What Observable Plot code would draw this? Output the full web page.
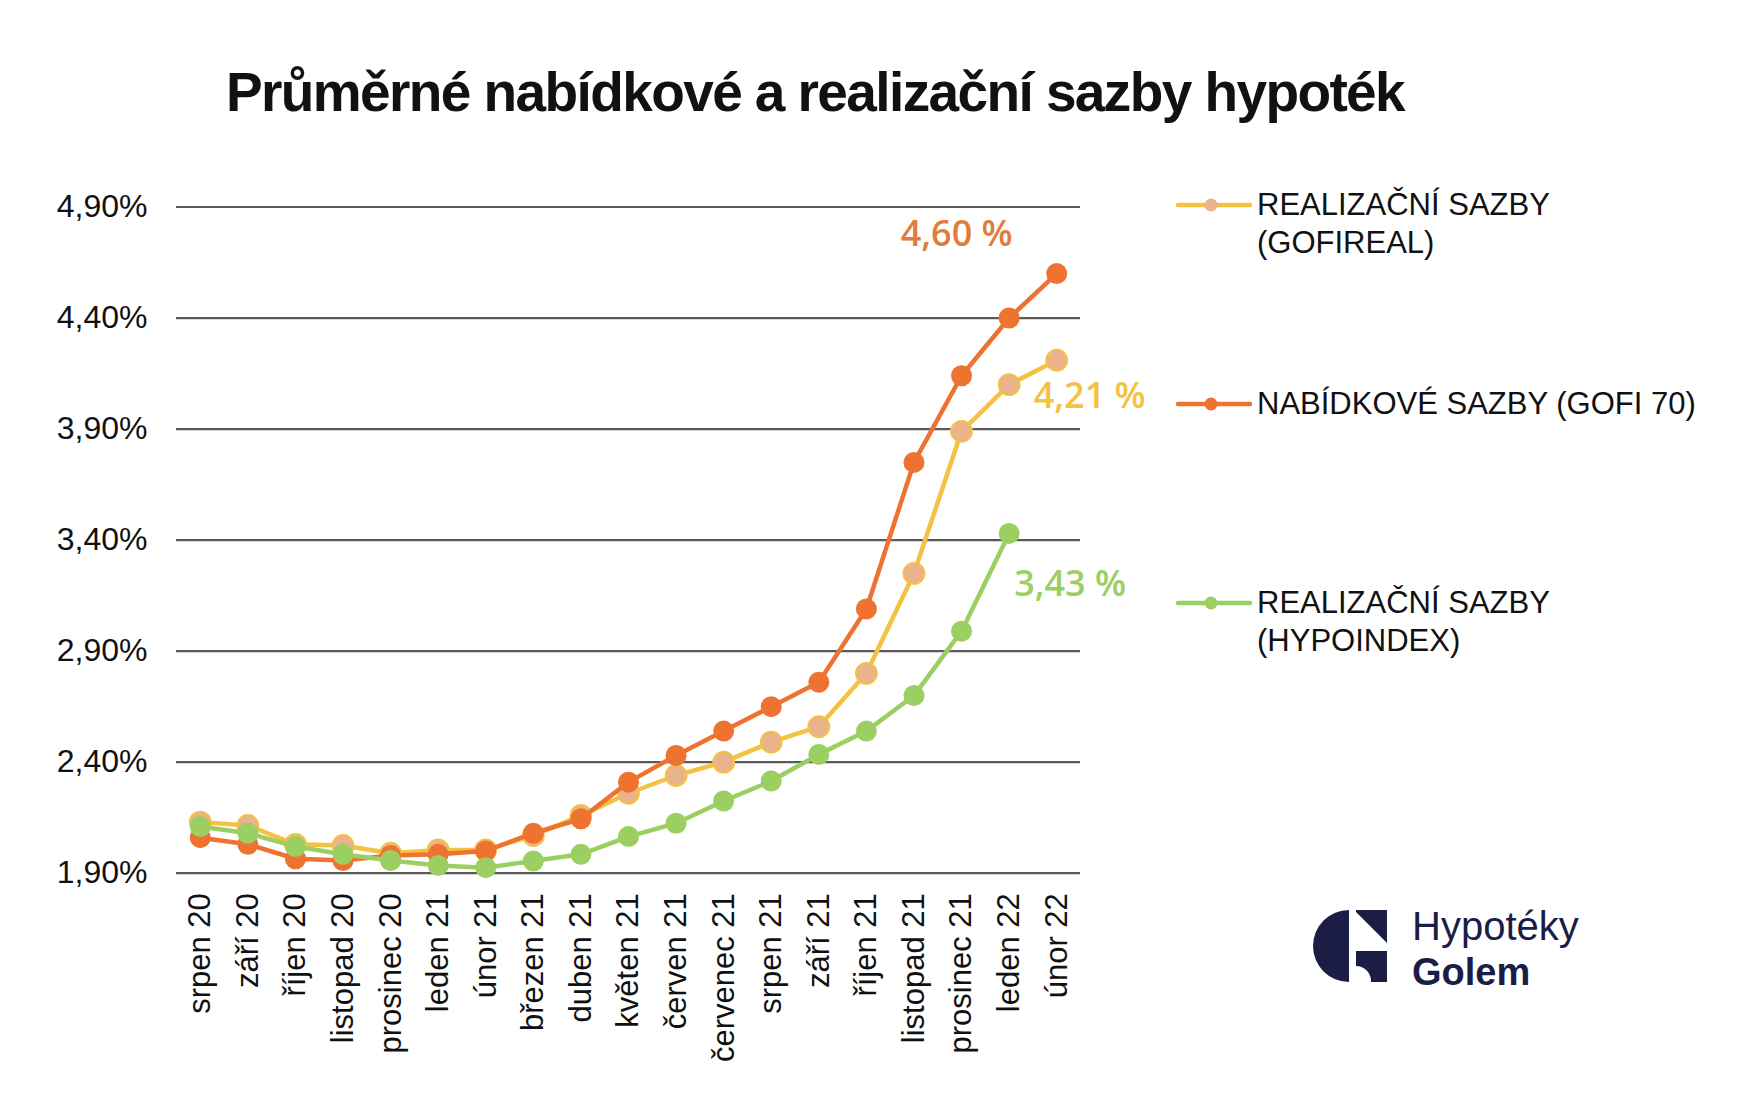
<!DOCTYPE html>
<html><head><meta charset="utf-8">
<script src="https://cdn.jsdelivr.net/npm/d3@7"></script>
<script src="https://cdn.jsdelivr.net/npm/@observablehq/plot@0.6"></script>
<style>
html,body{margin:0;padding:0;background:#fff;}
#page{position:relative;width:1750px;height:1094px;overflow:hidden;background:#fff;font-family:"Liberation Sans",Arial,sans-serif;color:#111;}
#title{position:absolute;left:0;top:65px;width:1630px;text-align:center;font-family:"Liberation Sans",Arial,sans-serif;font-weight:bold;font-size:55px;line-height:55px;letter-spacing:-1.6px;color:#111;margin:0;}
#chart{position:absolute;left:0;top:150px;}
.leg{position:absolute;left:1176px;display:flex;align-items:flex-start;}
.leg svg{flex:none;margin-top:0;}
.leg .t{margin-left:5px;font-size:31px;line-height:38px;color:#111;}
#logo{position:absolute;left:1305px;top:900px;}
</style></head>
<body>
<div id="page">
  <div id="title">Průměrné nabídkové a realizační sazby hypoték</div>
  <div id="chart"></div>
  <div id="legend"></div>
  <div id="logo"></div>
</div>
<script>
const months = ["srpen 20","září 20","říjen 20","listopad 20","prosinec 20","leden 21","únor 21","březen 21","duben 21","květen 21","červen 21","červenec 21","srpen 21","září 21","říjen 21","listopad 21","prosinec 21","leden 22","únor 22"];
const gofireal = [2.13,2.115,2.03,2.025,1.99,2.005,2.005,2.07,2.16,2.26,2.34,2.40,2.49,2.56,2.80,3.25,3.89,4.10,4.21];
const gofi70 = [2.06,2.03,1.965,1.957,1.98,1.985,2.00,2.08,2.145,2.31,2.43,2.54,2.65,2.76,3.09,3.75,4.14,4.40,4.60];
const hypoindex = [2.11,2.08,2.02,1.985,1.957,1.935,1.925,1.955,1.985,2.065,2.125,2.225,2.315,2.435,2.54,2.70,2.99,3.43,null];
const yTicks = [1.9,2.4,2.9,3.4,3.9,4.4,4.9];
const legendLines = [["REALIZAČNÍ SAZBY","(GOFIREAL)"],["NABÍDKOVÉ SAZBY (GOFI 70)"],["REALIZAČNÍ SAZBY","(HYPOINDEX)"]];
const lineColors = ["#F4C243","#EE7230","#9CCF62"];
const dotColors = ["#EBB38B","#EE7230","#9CCF62"];
const labelColors = ["#F4C243","#E07D3C","#9CCF62"];

const seriesValues = [gofireal, gofi70, hypoindex];
const rows = seriesValues.map((vals, s) => vals.map((v, i) => ({s, m: months[i], v})).filter(d => d.v != null));

// end labels (last defined point of each series)
const endLabels = rows.map(r => r[r.length - 1]);
const fmtPct = v => v.toFixed(2).replace(".", ",") + " %";
const labelOffsets = [{dx: 33, dy: 36}, {dx: -100, dy: -39}, {dx: 61, dy: 51}];

const marks = [
  Plot.ruleY(yTicks, {stroke: "#5a5a5a", strokeWidth: 2.2}),
  Plot.axisY({ticks: yTicks, tickSize: 0, tickPadding: 29, tickFormat: d => d.toFixed(2).replace(".", ",") + "%", fontSize: 32, label: null}),
  Plot.axisX({tickRotate: -90, tickSize: 0, tickPadding: 20, fontSize: 31, label: null})
];
rows.forEach((r, s) => {
  marks.push(Plot.line(r, {x: "m", y: "v", stroke: lineColors[s], strokeWidth: 4.5}));
  marks.push(Plot.dot(r, {x: "m", y: "v", r: 10.5, fill: dotColors[s], stroke: lineColors[s], strokeWidth: s === 0 ? 1.8 : 0}));
});
endLabels.forEach((d, s) => {
  marks.push(Plot.text([d], {x: "m", y: "v", text: d => fmtPct(d.v), dx: labelOffsets[s].dx, dy: labelOffsets[s].dy, fill: labelColors[s], fontSize: 36, fontWeight: 600, fontFamily: "Open Sans, sans-serif"}));
});

const chart = Plot.plot({
  width: 1160,
  height: 944,
  marginLeft: 176,
  marginRight: 80,
  marginTop: 56.5,
  marginBottom: 221.3,
  style: {fontFamily: "Liberation Sans, Arial, sans-serif", color: "#111", background: "transparent", overflow: "visible"},
  x: {type: "point", domain: months, padding: 0.5, range: [176, 1080], round: false},
  y: {domain: [1.9, 4.9]},
  marks
});
document.getElementById("chart").appendChild(chart);

// legend
const legendCenters = [205, 404, 603];
const legend = document.getElementById("legend");
legendLines.forEach((lines, s) => {
  const item = document.createElement("div");
  item.className = "leg";
  item.style.top = (legendCenters[s] - 19) + "px";
  const ns = "http://www.w3.org/2000/svg";
  const sw = document.createElementNS(ns, "svg");
  sw.setAttribute("width", 76); sw.setAttribute("height", 38);
  const ln = document.createElementNS(ns, "line");
  ln.setAttribute("x1", 2); ln.setAttribute("x2", 74); ln.setAttribute("y1", 19); ln.setAttribute("y2", 19);
  ln.setAttribute("stroke", lineColors[s]); ln.setAttribute("stroke-width", 4.5); ln.setAttribute("stroke-linecap", "round");
  const c = document.createElementNS(ns, "circle");
  c.setAttribute("cx", 35); c.setAttribute("cy", 19); c.setAttribute("r", 6.5);
  c.setAttribute("fill", dotColors[s]);
  sw.appendChild(ln); sw.appendChild(c);
  const t = document.createElement("div");
  t.className = "t";
  t.innerHTML = lines.join("<br>");
  item.appendChild(sw); item.appendChild(t);
  legend.appendChild(item);
});

// logo
document.getElementById("logo").innerHTML = `
<svg width="320" height="100" viewBox="0 0 320 100">
  <path d="M44,10 A36,36 0 0 0 44,82 Z" fill="#1b1d45"/>
  <path d="M51,10 L82,10 L82,43 L51,12 Z" fill="#1b1d45"/>
  <path d="M51,51 L82,51 L82,82 L66,82 A15,15 0 0 0 51,66 Z" fill="#1b1d45"/>
  <text x="107" y="40" font-family="Liberation Sans, Arial, sans-serif" font-size="40" fill="#1b1d45">Hypotéky</text>
  <text x="107" y="85" font-family="Liberation Sans, Arial, sans-serif" font-size="38" font-weight="bold" fill="#1b1d45">Golem</text>
</svg>`;
</script>
</body></html>
